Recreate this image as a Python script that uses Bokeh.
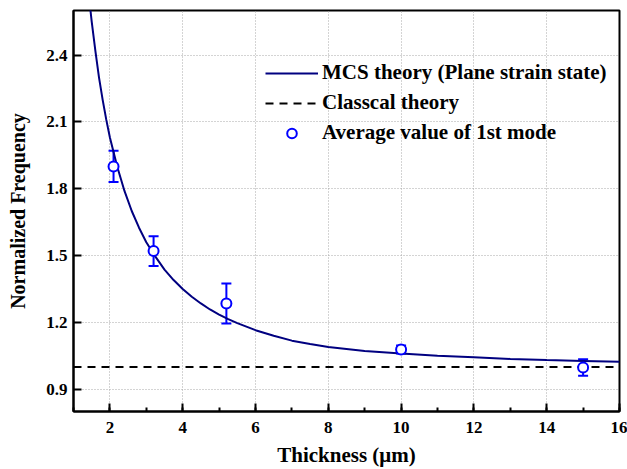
from bokeh.plotting import figure
from bokeh.models import (ColumnDataSource, FixedTicker, Legend, LegendItem,
                          Whisker, TeeHead)
from bokeh.embed import file_html
from bokeh.resources import INLINE

# ---- data ----
curve_x = [1.4, 1.5, 1.6, 1.7, 1.8, 1.9, 2.0, 2.2, 2.4, 2.6, 2.8, 3.0, 3.25,
           3.5, 3.75, 4.0, 4.25, 4.5, 4.75, 5.0, 5.25, 5.5, 6.0, 6.5, 7.0,
           7.5, 8.0, 9.0, 10.0, 11.0, 12.0, 13.0, 14.0, 15.0, 16.0]
curve_y = [2.70, 2.55, 2.42, 2.30, 2.20, 2.11, 2.03, 1.90, 1.79, 1.70, 1.625,
           1.56, 1.495, 1.437, 1.39, 1.35, 1.315, 1.285, 1.258, 1.235, 1.215,
           1.197, 1.165, 1.14, 1.118, 1.103, 1.09, 1.072, 1.060, 1.050,
           1.043, 1.036, 1.031, 1.027, 1.023]

classical_x = [1.0, 16.0]
classical_y = [1.0, 1.0]

meas_x = [2.1, 3.2, 5.2, 10.0, 15.0]
meas_y = [1.90, 1.52, 1.285, 1.078, 0.997]
meas_err = [0.07, 0.067, 0.09, 0.018, 0.037]

x_ticks = [2, 4, 6, 8, 10, 12, 14, 16]
x_minor = list(range(1, 17))
y_ticks = [0.9, 1.2, 1.5, 1.8, 2.1, 2.4]

FONT = "Liberation Serif"

p = figure(width=627, height=469, x_range=(1, 16), y_range=(0.8, 2.6),
           output_backend="svg", toolbar_location=None,
           min_border_left=73, min_border_right=8,
           min_border_top=10, min_border_bottom=58)
p.background_fill_color = "white"
p.border_fill_color = "white"
p.outline_line_color = "black"
p.outline_line_width = 2

# grids
for g in (p.xgrid, p.ygrid):
    g.grid_line_color = "#a8a8a8"
    g.grid_line_dash = "1 2"
    g.grid_line_width = 1

# axes
p.xaxis.ticker = FixedTicker(ticks=x_ticks, minor_ticks=x_minor)
p.yaxis.ticker = FixedTicker(ticks=y_ticks)
for ax in (p.xaxis, p.yaxis):
    ax.axis_line_width = 2
    ax.axis_line_color = "black"
    ax.major_tick_in = 8
    ax.major_tick_out = 0
    ax.major_tick_line_width = 2
    ax.major_tick_line_color = "black"
    ax.minor_tick_in = 4
    ax.minor_tick_out = 0
    ax.minor_tick_line_width = 2
    ax.minor_tick_line_color = "black"
    ax.major_label_text_font = FONT
    ax.major_label_text_font_style = "bold"
    ax.major_label_text_font_size = "17px"
    ax.major_label_text_color = "black"
    ax.axis_label_text_font = FONT
    ax.axis_label_text_font_style = "bold"
    ax.axis_label_text_color = "black"
p.xaxis.axis_label_text_font_size = "21px"
p.yaxis.axis_label_text_font_size = "20px"
p.yaxis.minor_tick_line_color = None
p.xaxis.major_label_standoff = 10
p.yaxis.major_label_standoff = 6
p.xaxis.axis_label = "Thickness (\u03bcm)"
p.yaxis.axis_label = "Normalized Frequency"
p.xaxis.axis_label_standoff = 7
p.yaxis.axis_label_standoff = 14

# classical theory
r_class = p.line(classical_x, classical_y, line_color="black", line_width=2,
                 line_dash="8 6")

# MCS theory curve
r_mcs = p.line(curve_x, curve_y, line_color="#000080", line_width=2)

# measurements with error bars
src = ColumnDataSource(dict(
    x=meas_x, y=meas_y,
    lo=[v - e for v, e in zip(meas_y, meas_err)],
    hi=[v + e for v, e in zip(meas_y, meas_err)],
))
wh = Whisker(base="x", lower="lo", upper="hi", source=src,
             line_color="#0000ff", line_width=2,
             upper_head=TeeHead(size=10, line_color="#0000ff", line_width=2),
             lower_head=TeeHead(size=10, line_color="#0000ff", line_width=2))
p.add_layout(wh)
r_pts = p.scatter("x", "y", source=src, size=10, marker="circle",
                  line_color="#0000ff", line_width=2, fill_color="white")

legend = Legend(items=[
    LegendItem(label="MCS theory (Plane strain state)", renderers=[r_mcs]),
    LegendItem(label="Classcal theory", renderers=[r_class]),
    LegendItem(label="Average value of 1st mode", renderers=[r_pts]),
], location=(192, 266))
legend.label_text_font = FONT
legend.label_text_font_style = "bold"
legend.label_text_font_size = "21px"
legend.label_text_color = "black"
legend.glyph_width = 53
legend.glyph_height = 24
legend.label_height = 24
legend.label_standoff = 4
legend.spacing = 5
legend.padding = 0
legend.margin = 0
legend.border_line_color = None
legend.background_fill_alpha = 0
p.add_layout(legend)

open("out.html", "w").write(file_html(p, INLINE))
